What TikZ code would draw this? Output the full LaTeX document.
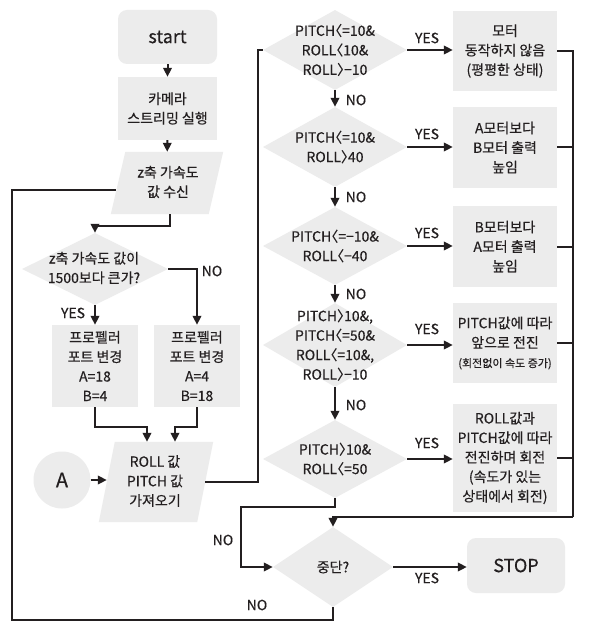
\documentclass[tikz,border=0pt]{standalone}
\usepackage{fontspec}
\setmainfont{Noto Sans CJK KR}[FakeBold=0.4]
\newfontfamily\brk{Noto Sans CJK KR}[FakeBold=0.4, RawFeature=+halt]
\usetikzlibrary{shapes.geometric,arrows.meta}
\definecolor{boxgray}{RGB}{236,236,236}
\definecolor{ink}{RGB}{35,31,32}
\newcommand{\mylt}{{\brk 〈}}
\newcommand{\mygt}{{\brk 〉}}
\begin{document}
\begin{tikzpicture}[x=1pt,y=-1pt,
  t/.style={font=\fontsize{14}{19.5}\selectfont, text=ink, align=center, inner sep=0pt},
  lab/.style={font=\fontsize{14}{16}\selectfont, text=ink, inner sep=0pt},
  rbox/.style={fill=boxgray, inner sep=0pt},
  dia/.style={diamond, fill=boxgray, inner sep=0pt, minimum width=#1},
  ln/.style={draw=ink, line width=2pt},
  arr/.style={ln, -{Triangle[length=9pt,width=8.5pt]}}]
\useasboundingbox (0,0) rectangle (597,628);
\fill[white] (0,0) rectangle (597,628);

% left column
\node[rbox, rounded corners=9pt, minimum width=99pt, minimum height=54pt, t, font=\fontsize{18}{20}\selectfont] (start) at (167.5,37) {start};
\node[rbox, minimum width=99pt, minimum height=63pt] (cam) at (167.5,108.5) {};
\node[t] at (cam) {카메라\\스트리밍 실행};
\node[inner sep=0pt, minimum width=112pt, minimum height=62pt] (zpar) at (167,183) {};
\fill[boxgray] ([xshift=14.5pt]zpar.north west) -- (zpar.north east) -- ([xshift=-14.5pt]zpar.south east) -- (zpar.south west) -- cycle;
\node[t] at (168,182) {z축 가속도\\값 수신};
\node[dia=146pt, minimum height=72pt] (zd) at (95,269) {};
\node[t] at (94,268) {z축 가속도 값이\\1500보다 큰가?};
\node[rbox, minimum width=86pt, minimum height=82pt] (lb) at (95,366) {};
\node[t] at (lb) {프로펠러\\포트 변경\\A=18\\B=4};
\node[rbox, minimum width=86pt, minimum height=82pt] (rb) at (197,366) {};
\node[t] at (rb) {프로펠러\\포트 변경\\A=4\\B=18};
\node[inner sep=0pt, minimum width=114pt, minimum height=80pt] (par2) at (156,482) {};
\fill[boxgray] ([xshift=16pt]par2.north west) -- (par2.north east) -- ([xshift=-16pt]par2.south east) -- (par2.south west) -- cycle;
\node[t] at (155,481) {ROLL 값\\PITCH 값\\가져오기};
\node[circle, fill=boxgray, minimum size=57pt, inner sep=0pt, text=ink, font=\fontsize{20}{20}\selectfont] (A) at (62,480) {A};

% right column diamonds
\node[dia=144pt, minimum height=80pt] (d1) at (335,50) {};
\node[t] at (d1) {PITCH\mylt=10\&\\ROLL\mylt10\&\\ROLL\mygt−10};
\node[dia=144pt, minimum height=80pt] (d2) at (335,147) {};
\node[t] at (d2) {PITCH\mylt=10\&\\ROLL\mygt40};
\node[dia=144pt, minimum height=78pt] (d3) at (335,246) {};
\node[t] at (d3) {PITCH\mylt=−10\&\\ROLL\mylt−40};
\node[dia=144pt, minimum height=84pt] (d4) at (335,345) {};
\node[t] at (d4) {PITCH\mygt10\&,\\PITCH\mylt=50\&\\ROLL\mylt=10\&,\\ROLL\mygt−10};
\node[dia=144pt, minimum height=78pt] (d5) at (335,459) {};
\node[t] at (d5) {PITCH\mygt10\&\\ROLL\mylt=50};
\node[dia=120pt, minimum height=80pt] (sd) at (333,567) {};
\node[t] at (sd) {중단?};

% right column boxes
\node[rbox, minimum width=104pt, minimum height=80pt] (b1) at (505,51) {};
\node[t] at (b1) {모터\\동작하지 않음\\(평평한 상태)};
\node[rbox, minimum width=104pt, minimum height=81pt] (b2) at (505,147.5) {};
\node[t] at (b2) {A모터보다\\B모터 출력\\높임};
\node[rbox, minimum width=104pt, minimum height=81pt] (b3) at (505,246.5) {};
\node[t] at (b3) {B모터보다\\A모터 출력\\높임};
\node[rbox, minimum width=104pt, minimum height=80pt] (b4) at (505,343) {};
\node[t] at (b4) {PITCH값에 따라\\앞으로 전진\\{\fontsize{11}{19.5}\selectfont(회전없이 속도 증가)}};
\node[rbox, minimum width=104pt, minimum height=108pt] (b5) at (505,458) {};
\node[t] at (b5) {ROLL값과\\PITCH값에 따라\\전진하며 회전\\(속도가 있는\\상태에서 회전)};
\node[rbox, rounded corners=9pt, minimum width=98pt, minimum height=55pt, t, font=\fontsize{18}{20}\selectfont] (stop) at (516,565.5) {STOP};

% coordinates for bends
\coordinate (jL) at (258,50);
\coordinate (rc) at (573,517);
\coordinate (jN) at (241,507);
\coordinate (lp) at (12,620);
\coordinate (zl) at (116,190);

% left connectors
\draw[arr] (start) -- (cam);
\draw[arr] (cam) -- (zpar);
\draw[arr] ([xshift=3pt]zpar.south) -- ++(0,12) -| (zd.north);
\draw[arr] (zd.south) -- (lb.north);
\draw[arr] (zd.east) -| (rb.north);
\draw[arr] (lb.south) -- ++(0,20) -| ([xshift=-9pt]par2.north);
\draw[arr] (rb.south) -- ++(0,20) -| ([xshift=19pt]par2.north);
\draw[arr] (A.east) -- ([xshift=8pt]A.east -| par2.west);
\draw[ln] ([xshift=-8pt]par2.east) -| (jL) -- (d1.west);

% right connectors
\draw[arr] (d1) -- (d2);
\draw[arr] (d2) -- (d3);
\draw[arr] (d3) -- (d4);
\draw[arr] (d4) -- (d5);
\draw[arr] (d1.east) -- (d1.east -| b1.west);
\draw[arr] (d2.east) -- (d2.east -| b2.west);
\draw[arr] (d3.east) -- (d3.east -| b3.west);
\draw[arr] (d4.east) -- (d4.east -| b4.west);
\draw[arr] (d5.east) -- (d5.east -| b5.west);
\draw[ln] (b1.east) -| (rc);
\draw[ln] (b2.east) -- (b2.east -| rc);
\draw[ln] (b3.east) -- (b3.east -| rc);
\draw[ln] (b4.east) -- (b4.east -| rc);
\draw[ln] (b5.east) -- (b5.east -| rc);
\draw[arr] (rc) -| (sd.north);
\draw[arr] (d5.south) |- (jN) |- (sd.west);
\draw[arr] (sd.east) -- (sd.east -| stop.west);
\draw[ln] (sd.south) |- (lp) |- (zl);

% labels
\node[lab] at (73,313) {YES};
\node[lab] at (212,271) {NO};
\node[lab] at (356,100) {NO};
\node[lab] at (356,197) {NO};
\node[lab] at (356,294) {NO};
\node[lab] at (356,405) {NO};
\node[lab] at (427,38) {YES};
\node[lab] at (427,134) {YES};
\node[lab] at (427,233) {YES};
\node[lab] at (427,329) {YES};
\node[lab] at (427,443) {YES};
\node[lab] at (223,540) {NO};
\node[lab] at (257,605) {NO};
\node[lab] at (427,578) {YES};
\end{tikzpicture}
\end{document}
